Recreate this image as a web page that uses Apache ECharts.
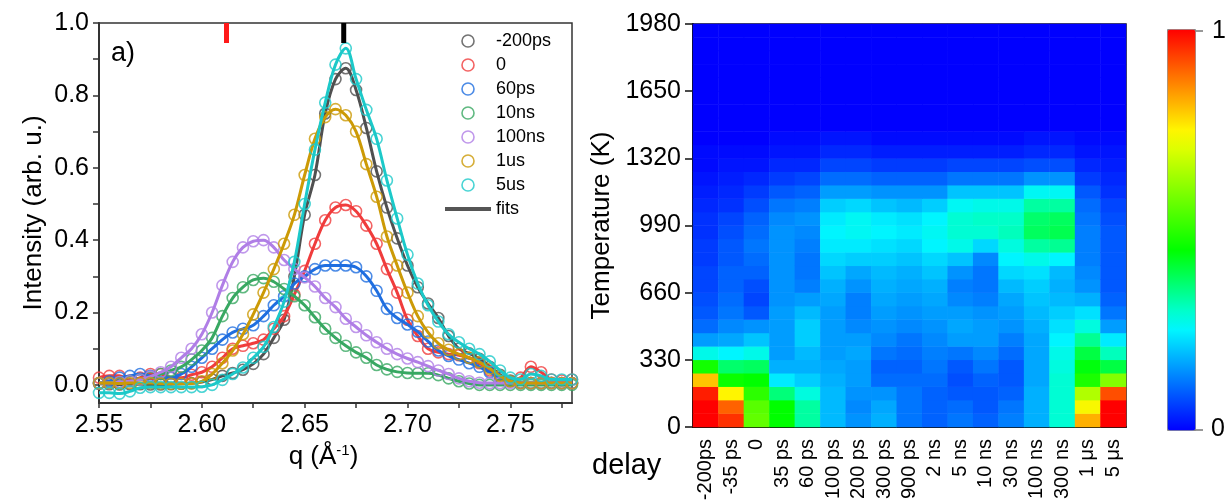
<!DOCTYPE html>
<html><head><meta charset="utf-8">
<script src="https://cdn.jsdelivr.net/npm/echarts@6/dist/echarts.min.js"></script>
<style>html,body{margin:0;padding:0;background:#fff}#chart{width:1226px;height:504px}</style>
</head><body><div id="chart"></div>
<script>
// ---------- Panel a) : intensity vs q ----------
const qValues = [2.550,2.555,2.560,2.565,2.570,2.575,2.580,2.585,2.590,2.595,2.600,2.605,2.610,2.615,2.620,2.625,2.630,2.635,2.640,2.645,2.650,2.655,2.660,2.665,2.670,2.675,2.680,2.685,2.690,2.695,2.700,2.705,2.710,2.715,2.720,2.725,2.730,2.735,2.740,2.745,2.750,2.755,2.760,2.765,2.770,2.775,2.780];
const s_m200ps = [0.003,0.002,0.001,0.002,0.002,0.001,0.001,0.002,0.003,0.005,0.008,0.015,0.025,0.033,0.042,0.058,0.085,0.13,0.18,0.30,0.47,0.58,0.75,0.845,0.875,0.815,0.71,0.59,0.49,0.405,0.33,0.27,0.225,0.185,0.135,0.10,0.087,0.072,0.05,0.028,0.012,0.006,0.005,0.005,0.006,0.005,0.005];
const s_0 = [0.02,0.025,0.025,0.012,0.02,0.03,0.03,0.02,0.02,0.028,0.035,0.05,0.075,0.10,0.108,0.115,0.125,0.155,0.19,0.25,0.315,0.39,0.455,0.49,0.497,0.48,0.44,0.39,0.32,0.255,0.18,0.135,0.10,0.09,0.085,0.082,0.075,0.06,0.04,0.02,0.01,0.02,0.05,0.035,0.015,0.012,0.015];
const s_60ps = [0.005,0.01,0.02,0.025,0.03,0.025,0.02,0.02,0.03,0.05,0.075,0.10,0.125,0.145,0.155,0.165,0.19,0.22,0.245,0.28,0.30,0.32,0.33,0.33,0.33,0.325,0.30,0.26,0.21,0.185,0.167,0.147,0.12,0.095,0.08,0.07,0.06,0.05,0.035,0.02,0.01,0.005,0.005,0.005,0.005,0.005,0.005];
const s_10ns = [0.005,0.006,0.008,0.01,0.015,0.02,0.03,0.04,0.05,0.07,0.095,0.13,0.19,0.24,0.27,0.29,0.295,0.285,0.265,0.245,0.22,0.187,0.155,0.13,0.108,0.09,0.075,0.055,0.043,0.036,0.033,0.032,0.032,0.027,0.018,0.01,0.004,0,0,0,0,0,0,0,0,0,0];
const s_100ns = [0.005,0.005,0.008,0.01,0.015,0.023,0.035,0.05,0.075,0.10,0.14,0.20,0.275,0.34,0.38,0.397,0.40,0.38,0.345,0.32,0.297,0.272,0.24,0.215,0.183,0.16,0.137,0.118,0.10,0.085,0.073,0.063,0.052,0.04,0.03,0.018,0.01,0.006,0.005,0.005,0.005,0.005,0.005,0.005,0.005,0.005,0.005];
const s_1us = [0.005,0.005,0.004,0.005,0.005,0.005,0.004,0.003,0.003,0.004,0.01,0.03,0.06,0.095,0.14,0.195,0.255,0.32,0.39,0.47,0.58,0.68,0.74,0.762,0.745,0.70,0.61,0.52,0.41,0.33,0.255,0.19,0.145,0.115,0.097,0.085,0.075,0.063,0.045,0.025,0.01,0.005,0.005,0.005,0.005,0.005,0.005];
const s_5us = [-0.022,-0.022,-0.024,-0.018,-0.008,-0.006,-0.006,-0.006,-0.006,-0.006,-0.005,0.0,0.014,0.03,0.048,0.075,0.105,0.16,0.23,0.34,0.50,0.65,0.78,0.885,0.93,0.845,0.76,0.68,0.565,0.46,0.36,0.28,0.22,0.175,0.14,0.118,0.10,0.085,0.065,0.04,0.02,0.015,0.03,0.025,0.015,0.015,0.015];
const seriesNames = ['-200ps','0','60ps','10ns','100ns','1us','5us'];
const seriesValues = [s_m200ps, s_0, s_60ps, s_10ns, s_100ns, s_1us, s_5us];
const seriesColors = ['#505050','#f03c3c','#1f6ee0','#38a862','#b07ee6','#cc9a06','#1cc9c9'];
const markerRedQ = 2.612, markerBlackQ = 2.669, markerTop = 1.0, markerBottom = 0.945;
const qTickValues = [2.55, 2.60, 2.65, 2.70, 2.75];
const qAllTicks = [2.55, 2.575, 2.60, 2.625, 2.65, 2.675, 2.70, 2.725, 2.75, 2.775];
const yTickValues = [0, 0.2, 0.4, 0.6, 0.8, 1.0];
const yAllTicks = [0, 0.1, 0.2, 0.3, 0.4, 0.5, 0.6, 0.7, 0.8, 0.9, 1.0];

// ---------- Panel b) : heatmap ----------
const delays = ['-200ps','-35 ps','0','35 ps','60 ps','100 ps','200 ps','300 ps','900 ps','2 ns','5 ns','10 ns','30 ns','100 ns','300 ns','1 μs','5 μs'];
const tempBins = [33,99,165,231,297,363,429,495,561,627,693,759,825,891,957,1023,1089,1155,1221,1287,1353,1419,1485,1551,1617,1683,1749,1815,1881,1947];
const h_m200ps = [1.0,1.0,0.97,0.8,0.47,0.27,0.16,0.11,0.09,0.08,0.07,0.07,0.06,0.06,0.05,0.05,0.04,0.03,0.02,0.01,0.01,0,0,0,0,0,0,0,0,0];
const h_m35ps  = [0.95,0.9,0.75,0.46,0.37,0.25,0.17,0.14,0.12,0.11,0.1,0.1,0.09,0.09,0.08,0.07,0.05,0.04,0.03,0.02,0.01,0,0,0,0,0,0,0,0,0];
const h_0      = [0.56,0.55,0.5,0.45,0.38,0.27,0.2,0.15,0.09,0.07,0.08,0.1,0.11,0.12,0.11,0.1,0.08,0.06,0.04,0.02,0.01,0,0,0,0,0,0,0,0,0];
const h_35ps   = [0.45,0.45,0.36,0.24,0.18,0.16,0.16,0.16,0.16,0.15,0.15,0.15,0.15,0.15,0.15,0.14,0.12,0.09,0.06,0.04,0.02,0.01,0,0,0,0,0,0,0,0];
const h_60ps   = [0.33,0.33,0.28,0.21,0.18,0.19,0.21,0.21,0.19,0.16,0.13,0.12,0.12,0.13,0.14,0.15,0.13,0.1,0.07,0.04,0.02,0.01,0,0,0,0,0,0,0,0];
const h_100ps  = [0.19,0.19,0.19,0.18,0.17,0.16,0.16,0.16,0.16,0.17,0.18,0.2,0.22,0.24,0.25,0.24,0.21,0.16,0.11,0.07,0.04,0.02,0,0,0,0,0,0,0,0];
const h_200ps  = [0.15,0.14,0.15,0.16,0.16,0.17,0.16,0.14,0.13,0.13,0.15,0.17,0.21,0.24,0.26,0.26,0.22,0.16,0.11,0.07,0.04,0.02,0,0,0,0,0,0,0,0];
const h_300ps  = [0.18,0.17,0.15,0.11,0.1,0.12,0.14,0.15,0.16,0.17,0.18,0.19,0.21,0.23,0.25,0.24,0.2,0.15,0.1,0.06,0.03,0.01,0,0,0,0,0,0,0,0];
const h_900ps  = [0.12,0.12,0.12,0.11,0.1,0.11,0.12,0.14,0.15,0.16,0.17,0.18,0.2,0.22,0.24,0.23,0.19,0.15,0.1,0.06,0.03,0.01,0,0,0,0,0,0,0,0];
const h_2ns    = [0.1,0.1,0.1,0.11,0.12,0.13,0.14,0.15,0.16,0.17,0.18,0.2,0.22,0.25,0.26,0.25,0.21,0.15,0.1,0.06,0.03,0.01,0,0,0,0,0,0,0,0];
const h_5ns    = [0.12,0.11,0.09,0.08,0.09,0.12,0.16,0.17,0.16,0.14,0.13,0.15,0.2,0.27,0.29,0.29,0.26,0.2,0.12,0.07,0.03,0.01,0,0,0,0,0,0,0,0];
const h_10ns   = [0.1,0.09,0.09,0.1,0.12,0.14,0.16,0.16,0.15,0.13,0.12,0.12,0.14,0.22,0.29,0.3,0.27,0.2,0.12,0.07,0.03,0.01,0,0,0,0,0,0,0,0];
const h_30ns   = [0.13,0.12,0.1,0.09,0.09,0.11,0.13,0.15,0.16,0.17,0.19,0.22,0.25,0.28,0.31,0.3,0.27,0.2,0.12,0.07,0.03,0.01,0,0,0,0,0,0,0,0];
const h_100ns  = [0.18,0.18,0.18,0.17,0.17,0.17,0.17,0.18,0.19,0.2,0.21,0.23,0.27,0.33,0.38,0.37,0.33,0.26,0.15,0.08,0.04,0.02,0,0,0,0,0,0,0,0];
const h_300ns  = [0.29,0.29,0.29,0.29,0.28,0.27,0.25,0.23,0.21,0.19,0.18,0.19,0.25,0.34,0.39,0.38,0.33,0.26,0.15,0.08,0.04,0.02,0,0,0,0,0,0,0,0];
const h_1us    = [0.82,0.74,0.65,0.48,0.44,0.4,0.34,0.28,0.23,0.18,0.15,0.14,0.13,0.13,0.13,0.12,0.11,0.09,0.06,0.04,0.02,0.01,0,0,0,0,0,0,0,0];
const h_5us    = [1.0,1.0,0.92,0.6,0.4,0.31,0.24,0.16,0.12,0.1,0.09,0.09,0.09,0.09,0.09,0.08,0.07,0.05,0.04,0.03,0.02,0.01,0,0,0,0,0,0,0,0];
const heatColumns = [h_m200ps,h_m35ps,h_0,h_35ps,h_60ps,h_100ps,h_200ps,h_300ps,h_900ps,h_2ns,h_5ns,h_10ns,h_30ns,h_100ns,h_300ns,h_1us,h_5us];
const jetColors = ['#0000ff','#0031ff','#0062ff','#0093ff','#00c4ff','#00f5ff','#00ffc9','#00ff86','#00ff43','#00ff00','#2cff00','#58ff00','#84ff00','#b0ff00','#dcff00','#fff500','#ffc400','#ff9300','#ff6200','#ff3100','#ff0000'];

// ---------- build ----------
const FONT = 'Arial, "Liberation Sans", Helvetica, sans-serif';
const heatData = [];
heatColumns.forEach((col, xi) => col.forEach((v, yi) => heatData.push([xi, yi, v])));

const series = [{
  type: 'heatmap', xAxisIndex: 1, yAxisIndex: 1, data: heatData,
  itemStyle: { borderWidth: 0 }, emphasis: { disabled: true }, silent: true
}];
seriesNames.forEach((name, k) => {
  series.push({
    type: 'scatter', name, xAxisIndex: 0, yAxisIndex: 0,
    data: qValues.map((q, i) => [q, seriesValues[k][i]]),
    symbol: 'circle', symbolSize: 11,
    itemStyle: { color: 'rgba(0,0,0,0)', borderColor: seriesColors[k], borderWidth: 1.6 },
    z: 2 + k, silent: true
  });
});
seriesNames.forEach((name, k) => {
  series.push({
    type: 'line', name, xAxisIndex: 0, yAxisIndex: 0,
    data: qValues.map((q, i) => [q, seriesValues[k][i]]),
    smooth: 0.35, showSymbol: false, symbol: 'none',
    lineStyle: { color: seriesColors[k], width: 3 },
    itemStyle: { color: seriesColors[k] },
    z: 2 + k, silent: true
  });
});
series.push({ type: 'line', name: 'fits', data: [], symbol: 'none', xAxisIndex: 0, yAxisIndex: 0,
  lineStyle: { color: '#555555', width: 4 }, itemStyle: { color: '#555555' } });
[[markerRedQ, '#ff1a1a'], [markerBlackQ, '#000000']].forEach(([q, c]) => {
  series.push({ type: 'line', xAxisIndex: 0, yAxisIndex: 0, symbol: 'none', silent: true, z: 20,
    data: [[q, markerTop], [q, markerBottom]], lineStyle: { color: c, width: 5 } });
});

const legendData = seriesNames.map((n, k) => ({ name: n, icon: 'circle',
  itemStyle: { color: 'rgba(0,0,0,0)', borderColor: seriesColors[k], borderWidth: 1.6 } }));
legendData.push({ name: 'fits', icon: 'path://M0,0L46,0L46,4L0,4Z', itemStyle: { color: '#555555', borderWidth: 0 } });

const option = {
  animation: false,
  textStyle: { fontFamily: FONT },
  grid: [
    { left: 99, top: 23, width: 473, height: 380, show: true, borderColor: '#333', borderWidth: 1.5, backgroundColor: 'rgba(0,0,0,0)' },
    { left: 693, top: 24, width: 433, height: 403, show: true, borderColor: '#111', borderWidth: 1.5, backgroundColor: 'rgba(0,0,0,0)' }
  ],
  xAxis: [
    { gridIndex: 0, type: 'value', min: 2.55, max: 2.78, position: 'bottom',
      axisLine: { onZero: false, lineStyle: { color: '#333', width: 2 } },
      axisTick: { customValues: qAllTicks, length: 5, lineStyle: { color: '#333', width: 1.5 } },
      axisLabel: { customValues: qTickValues, formatter: v => v.toFixed(2), fontSize: 25, color: '#000', margin: 10 },
      splitLine: { show: false },
      name: 'q (Å{s|-1})', nameLocation: 'middle', nameGap: 40,
      nameTextStyle: { fontSize: 26, color: '#000', padding: [0, 24, 0, 0], rich: { s: { fontSize: 15, verticalAlign: 'top', color: '#000', padding: [0, 0, 12, 0] } } } },
    { gridIndex: 1, type: 'category', data: delays, position: 'bottom',
      axisLine: { onZero: false, lineStyle: { color: '#111', width: 2 } },
      axisTick: { alignWithLabel: true, length: 8, lineStyle: { color: '#111', width: 1.5 } },
      axisLabel: { rotate: 90, interval: 0, fontSize: 20, color: '#000', margin: 12 },
      splitLine: { show: false } }
  ],
  yAxis: [
    { gridIndex: 0, type: 'value', min: -0.05, max: 1.0, position: 'left',
      axisLine: { show: true, onZero: false, lineStyle: { color: '#333', width: 2 } },
      axisTick: { show: true, customValues: yAllTicks, length: 6, lineStyle: { color: '#333', width: 1.5 } },
      axisLabel: { customValues: yTickValues, formatter: v => v.toFixed(1), fontSize: 25, color: '#000', margin: 10 },
      splitLine: { show: false },
      name: 'Intensity (arb. u.)', nameLocation: 'middle', nameGap: 52,
      nameTextStyle: { fontSize: 26, color: '#000' } },
    { gridIndex: 1, type: 'category', data: tempBins, show: false },
    { gridIndex: 1, type: 'value', min: 0, max: 1980, interval: 330, position: 'left',
      axisLine: { show: true, onZero: false, lineStyle: { color: '#111', width: 2 } },
      axisTick: { show: true, length: 8, lineStyle: { color: '#111', width: 1.5 } },
      axisLabel: { fontSize: 25, color: '#000', margin: 12, formatter: v => String(v) },
      splitLine: { show: false },
      name: 'Temperature (K)', nameLocation: 'middle', nameGap: 78,
      nameTextStyle: { fontSize: 26, color: '#000' } }
  ],
  visualMap: {
    type: 'continuous', seriesIndex: 0, min: 0, max: 1, orient: 'vertical',
    left: 1167, top: 29, itemWidth: 28, itemHeight: 401, calculable: false, hoverLink: false,
    padding: 0, borderColor: '#888', borderWidth: 1, showLabel: false,
    inRange: { color: jetColors }
  },
  legend: {
    data: legendData, orient: 'vertical', left: 440, top: 27,
    itemWidth: 46, itemHeight: 12, itemGap: 6, selectedMode: false,
    textStyle: { fontSize: 18, color: '#000' }
  },
  graphic: [
    { type: 'text', left: 111, top: 40, silent: true, style: { text: 'a)', fill: '#000', font: '27px ' + FONT } },
    { type: 'text', left: 710, top: 37, silent: true, style: { text: 'b)', fill: '#fff', font: '27px ' + FONT } },
    { type: 'text', left: 592, top: 451, silent: true, style: { text: 'delay', fill: '#000', font: '29px ' + FONT } },
    { type: 'text', left: 1212, top: 19, silent: true, style: { text: '1', fill: '#000', font: '25px ' + FONT } },
    { type: 'text', left: 1211, top: 417, silent: true, style: { text: '0', fill: '#000', font: '25px ' + FONT } },
    { type: 'line', silent: true, shape: { x1: 1195, y1: 31, x2: 1203, y2: 31 }, style: { stroke: '#333', lineWidth: 1 } },
    { type: 'line', silent: true, shape: { x1: 1195, y1: 430, x2: 1203, y2: 430 }, style: { stroke: '#333', lineWidth: 1 } }
  ],
  series
};
const chart = echarts.init(document.getElementById('chart'), null, { renderer: 'canvas' });
chart.setOption(option);
</script></body></html>
